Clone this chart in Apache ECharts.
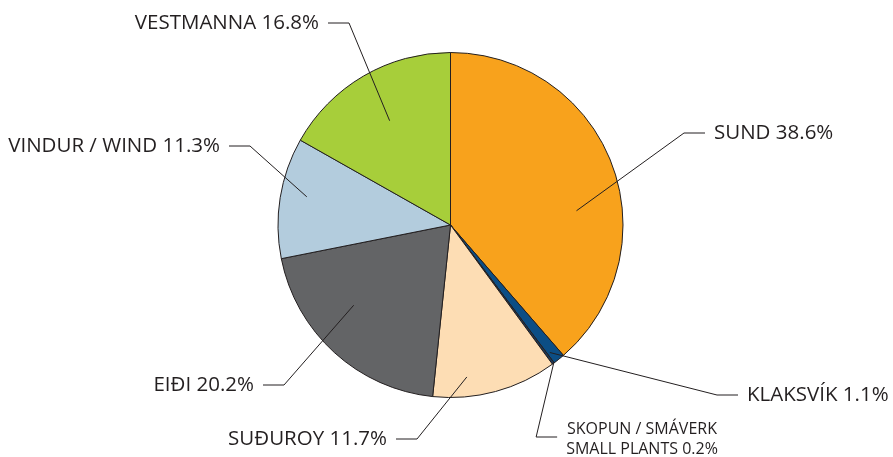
<!DOCTYPE html>
<html><head><meta charset="utf-8">
<script src="https://cdn.jsdelivr.net/npm/echarts/dist/echarts.min.js"></script>
<style>html,body{margin:0;padding:0;background:#fff}#c{width:893px;height:457px}</style>
</head><body><div id="c"></div>
<script>
// ---- data ----
const categories = ['SUND', 'KLAKSVÍK', 'SKOPUN / SMÁVERK\nSMALL PLANTS', 'SUÐUROY', 'EIÐI', 'VINDUR / WIND', 'VESTMANNA'];
const shares = [38.6, 1.1, 0.2, 11.7, 20.2, 11.3, 16.8];
const sliceColors = ['#F8A21C', '#0C4E85', '#1B3A5C', '#FDDDB4', '#636466', '#B3CCDD', '#A7CE3A'];

// ---- layout (label text anchors and leader start: radial fraction, angle offset in degrees) ----
const PIE_CX = 450.5, PIE_CY = 225, PIE_R = 172.5;
const labelPlacement = [
  {x: 714, y: 133, align: 'left',   fr: 0.735, da: 14},
  {x: 747, y: 395, align: 'left',   fr: 0.937, da: 1},
  {x: 642, y: 439, align: 'center', fr: 0.995, da: -0.5},
  {x: 387, y: 439, align: 'right',  fr: 0.886, da: 9},
  {x: 254, y: 385, align: 'right',  fr: 0.729, da: 8},
  {x: 220, y: 146, align: 'right',  fr: 0.849, da: 2},
  {x: 319, y: 23,  align: 'right',  fr: 0.70,  da: 0}
];
const GAP = 9, ELBOW = 21;
const FONT = '"Open Sans", sans-serif';
const TXT = '#231F20';

const chart = echarts.init(document.getElementById('c'), null, {renderer: 'canvas'});

const total = shares.reduce((a, b) => a + b, 0);
function midAngleFallback(i) {
  let cum = 0;
  for (let k = 0; k < i; k++) cum += shares[k];
  const frac = (cum + shares[i] / 2) / total;
  return frac * 2 * Math.PI - Math.PI / 2;
}

const sliceData = categories.map((name, i) => ({name: name, value: shares[i], itemStyle: {color: sliceColors[i]}}));
const labelData = categories.map((name, i) => {
  const item = {name: name, value: shares[i]};
  if (i === 2) item.label = {fontSize: 16, lineHeight: 20, align: 'center'};
  return item;
});

const common = {
  type: 'pie',
  center: [PIE_CX, PIE_CY],
  radius: PIE_R,
  startAngle: 90,
  clockwise: true,
  avoidLabelOverlap: false,
  silent: true,
  emphasis: {disabled: true}
};

chart.setOption({
  animation: false,
  backgroundColor: '#ffffff',
  series: [
    Object.assign({}, common, {
      z: 2,
      data: sliceData,
      itemStyle: {borderColor: '#231F20', borderWidth: 1},
      label: {show: false},
      labelLine: {show: false}
    }),
    Object.assign({}, common, {
      z: 5,
      data: labelData,
      itemStyle: {color: 'rgba(0,0,0,0)', borderWidth: 0},
      label: {
        show: true,
        position: 'outside',
        fontFamily: FONT,
        fontSize: 20.5,
        color: TXT,
        formatter: p => p.name + ' ' + p.value.toFixed(1) + '%'
      },
      labelLine: {show: true, length: 10, length2: 10, smooth: false, lineStyle: {color: TXT, width: 1}},
      labelLayout: function (params) {
        const i = params.dataIndex;
        const pl = labelPlacement[i];
        let ang;
        const p0 = params.labelLinePoints && params.labelLinePoints[0];
        if (p0) ang = Math.atan2(p0[1] - PIE_CY, p0[0] - PIE_CX);
        else ang = midAngleFallback(i);
        ang += pl.da * Math.PI / 180;
        const start = [PIE_CX + pl.fr * PIE_R * Math.cos(ang), PIE_CY + pl.fr * PIE_R * Math.sin(ang)];
        let edge, dir;
        if (pl.align === 'left') { edge = pl.x; dir = -1; }
        else if (pl.align === 'right') { edge = pl.x; dir = 1; }
        else { edge = pl.x - params.labelRect.width / 2; dir = -1; }
        const lineY = pl.align === 'center' ? pl.y - 2 : pl.y;
        const end = [edge + dir * GAP, lineY];
        const elbow = [end[0] + dir * ELBOW, lineY];
        return {
          x: pl.x, y: pl.y, align: pl.align, verticalAlign: 'middle',
          labelLinePoints: [start, elbow, end]
        };
      }
    })
  ]
});
</script></body></html>
